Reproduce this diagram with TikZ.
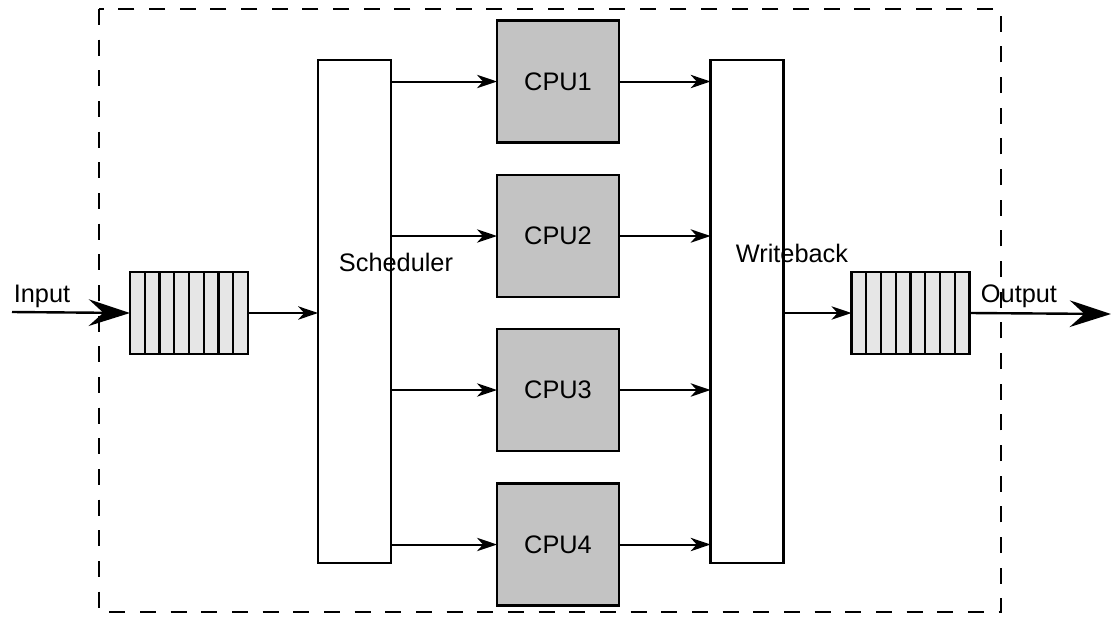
\documentclass[tikz,border=0pt]{standalone}
\usepackage{fontspec}
\setmainfont{Liberation Sans}
\usetikzlibrary{arrows.meta}

\definecolor{cpugray}{HTML}{C3C3C3}
\definecolor{quegray}{HTML}{E6E6E6}

\begin{document}
\begin{tikzpicture}[x=0.75pt,y=-0.75pt,
  font=\fontsize{19}{22}\selectfont,
  box/.style={draw,line width=1.8pt,inner sep=0pt,outer sep=0pt},
  cpubox/.style={box,fill=cpugray,minimum width=91.5pt,minimum height=91.5pt},
  tallbox/.style={box,fill=white,minimum width=54.5pt,minimum height=377.25pt},
  quebox/.style={box,fill=quegray,minimum width=88.5pt,minimum height=61.5pt},
  link/.style={line width=1.5pt,-{Stealth[length=15pt,width=10pt,inset=4.5pt]}},
  biglink/.style={line width=1.8pt,-{Stealth[length=31pt,width=20pt,inset=11pt]}}]
  \useasboundingbox (0,0) rectangle (1111,618);
  % dashed frame round the system
  \draw[line width=1.9pt,dash pattern=on 12pt off 11pt] (99,9) rectangle (1001,612);
  % the two queues
  \node[quebox] (qin) at (189,313) {};
  \node[quebox] (qout) at (910.5,313) {};
  \foreach \q in {qin,qout}
    \foreach \i in {1,...,7}
      \draw[line width=1.6pt] ([xshift=\i*11.0625pt]\q.north west) -- ([xshift=\i*11.0625pt]\q.south west);
  % scheduler and writeback
  \node[tallbox] (sched) at (354.5,311.5) {};
  \node (schedtxt) at (396,262) {Scheduler};
  \node[tallbox] (wb) at (747,311.5) {};
  \node (wbtxt) at (792,253) {Writeback};
  % the four cores
  \node[cpubox] (cpu1) at (558,81.5) {CPU1};
  \node[cpubox] (cpu2) at (558,236) {CPU2};
  \node[cpubox] (cpu3) at (558,390) {CPU3};
  \node[cpubox] (cpu4) at (558,544.5) {CPU4};
  \foreach \c in {cpu1,cpu2,cpu3,cpu4} {
    \draw[link] (sched.east |- \c.west) -- (\c.west);
    \draw[link] (\c.east) -- (wb.west |- \c.east);
  }
  % input and output
  \coordinate (src) at (12,312);
  \coordinate (dst) at (1111,314);
  \node (intxt) at (42,296) {Input};
  \node (outtxt) at (1019,296) {Output};
  \draw[biglink] (src) -- (qin.west);
  \draw[link] (qin.east) -- (sched.west |- qin.east);
  \draw[link] (wb.east |- qout.west) -- (qout.west);
  \draw[biglink] (qout.east) -- (dst);
\end{tikzpicture}
\end{document}
